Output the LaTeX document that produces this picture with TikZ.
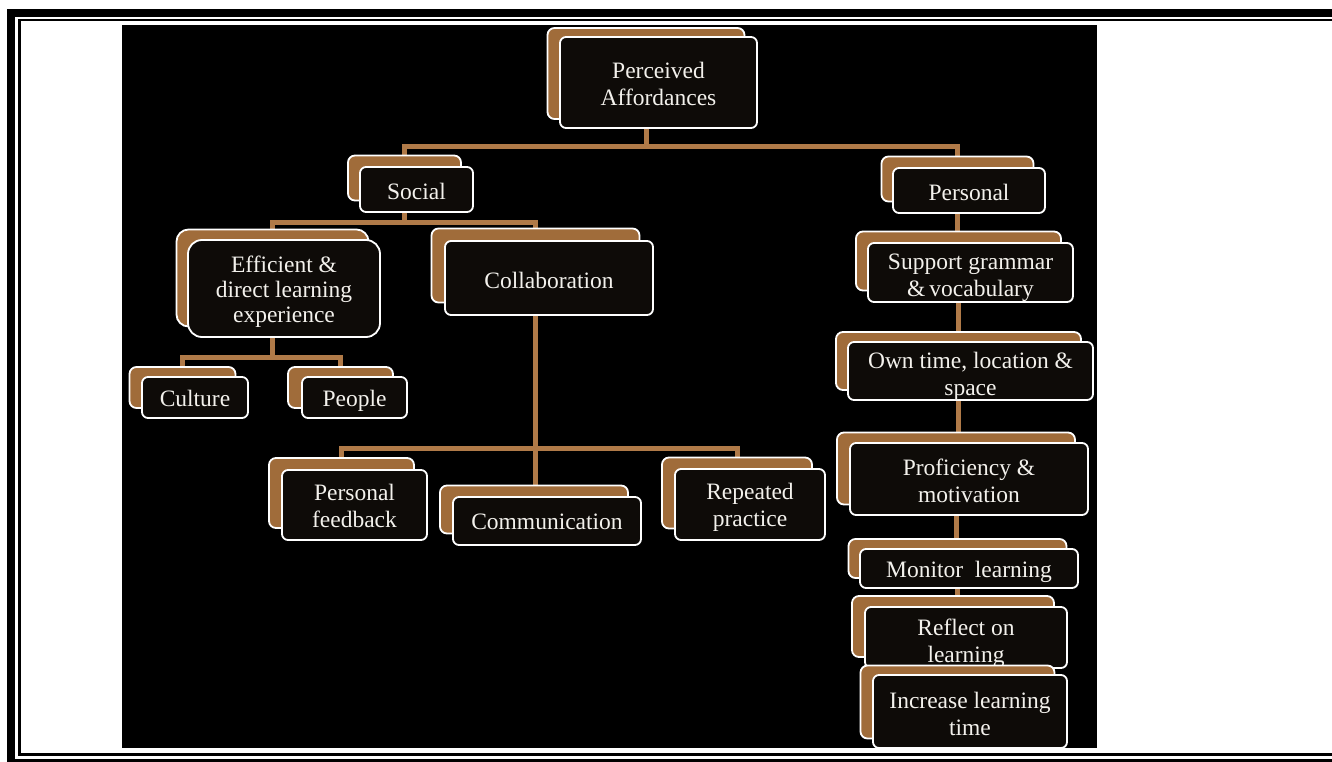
\documentclass[tikz,border=0pt]{standalone}
\usepackage{fontspec}
\setmainfont{Liberation Serif}
\pgfdeclarelayer{bg}
\pgfsetlayers{bg,main}
\definecolor{conncol}{HTML}{B07A48}
\definecolor{bbrown}{HTML}{A06C3A}
\definecolor{fblack}{HTML}{0E0B08}
\definecolor{txt}{HTML}{F3F1EC}
\tikzset{
  backbox/.style={draw=white, line width=1.8pt, fill=bbrown, rounded corners=7pt, inner sep=0pt},
  frontbox/.style={draw=white, line width=1.8pt, fill=fblack, rounded corners=6pt, inner sep=0pt},
  lbl/.style={text=txt, align=center, inner sep=0pt, font=\fontsize{23.5}{27}\selectfont},
  connector/.style={draw=conncol, line width=5pt},
}
% #1 text shift down, #2 name, #3,#4 back centre, #5,#6 front centre, #7 width, #8 height, #9 text
\newcommand\abox[9][3]{%
  \node[backbox, minimum width=#7pt, minimum height=#8pt] (#2B) at (#3,#4) {};
  \node[frontbox, minimum width=#7pt, minimum height=#8pt] (#2) at (#5,#6) {};
  \node[lbl] (#2T) at ([yshift=-#1pt]#2.center) {#9};
}
\begin{document}
\begin{tikzpicture}[x=1pt,y=-1pt]
\useasboundingbox (0,0) rectangle (1332,762);
\begin{pgfonlayer}{bg}
  \fill[white] (0,0) rectangle (1332,762);
  \draw[line width=8pt] (1332,13) -- (11,13) -- (11,762);
  \draw[line width=4pt] (7,760.5) -- (1332,760.5);
  \draw[line width=2.5pt] (1332,20) -- (19.5,20) -- (19.5,754.5) -- (1332,754.5);
  \fill[black] (122,25) rectangle (1097,748);
\end{pgfonlayer}

\abox[1.5]{pa}{646}{73.5}{658.5}{82.5}{197}{91}{Perceived\\Affordances}
\abox[2]{soc}{404.5}{178}{416.5}{189.5}{113}{45}{Social}
\abox[2]{per}{957.5}{179}{969}{190.5}{152}{45}{Personal}
\abox[5.5]{sup}{958.5}{261}{970.5}{272.5}{205}{59}{Support grammar\\\&\,vocabulary}
\abox[5.5]{own}{958.5}{361}{970.5}{371}{245}{58}{Own time, location \&\\space}
\abox[2]{prof}{956}{468.5}{969}{479}{238}{72}{Proficiency \&\\motivation}
\abox[3]{mon}{957.5}{558.5}{969}{568.5}{218}{39}{Monitor~ learning}
\abox[6]{ref}{953}{626.5}{966}{637.5}{202}{61}{Reflect on\\learning}
\abox[2]{inc}{957.5}{702}{970}{711.5}{194}{73}{Increase learning\\time}
{\tikzset{frontbox/.append style={rounded corners=14pt}, backbox/.append style={rounded corners=12pt},
   lbl/.append style={font=\fontsize{23.5}{25}\selectfont}}
 \abox[3.5]{eff}{272.5}{278}{284}{288.5}{192}{97}{Efficient \&\\direct learning\\experience}}
\abox[1]{cul}{182.5}{387.5}{195}{397.5}{106}{41}{Culture}
\abox[3.5]{peo}{340.5}{387.5}{354.5}{397.5}{105}{41}{People}
\abox[2]{coll}{535.5}{265.5}{549}{278}{208}{74}{Collaboration}
\abox[0.5]{pf}{341.5}{493}{354.5}{505}{145}{70}{Personal\\feedback}
\abox[0.5]{comm}{534}{509.5}{547}{521}{188}{48}{Communication}
\abox[3]{rep}{737}{493}{750}{504.5}{150}{71}{Repeated\\practice}

\coordinate (j1) at (646,147);
\coordinate (j2) at (404.5,222);
\coordinate (j3) at (272.5,357);
\coordinate (j4) at (535.5,448);

\begin{pgfonlayer}{bg}
  \draw[connector] (paB.center) -- (j1);
  \draw[connector] (socB) |- (j1) -| (perB);
  \draw[connector] (socB.center) -- (j2);
  \draw[connector] (effB) |- (j2) -| (collB);
  \draw[connector] (effB.center) -- (j3);
  \draw[connector] (culB) |- (j3) -| (peoB);
  \draw[connector] (collB.center) -- (collB.center |- commB.north);
  \draw[connector] (pfB) |- (j4) -| (repB);
  \draw[connector] (perB.center) -- (perB.center |- supB.north);
  \draw[connector] (supB.center) -- (supB.center |- ownB.north);
  \draw[connector] (ownB.center) -- (ownB.center |- profB.north);
  \draw[connector] (profB.center) -- (profB.center |- monB.north);
  \draw[connector] (monB.center) -- (monB.center |- refB.north);
\end{pgfonlayer}
\end{tikzpicture}
\end{document}
